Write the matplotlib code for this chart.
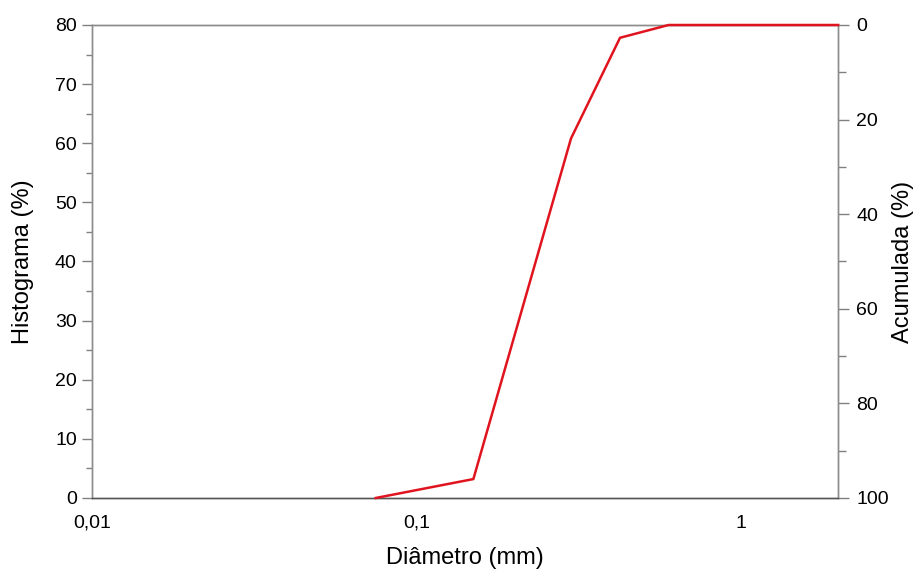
import matplotlib
matplotlib.use("Agg")
import matplotlib.pyplot as plt
from matplotlib.ticker import FixedLocator, MultipleLocator

plt.rcParams['font.family'] = ['Liberation Sans', 'DejaVu Sans']

diametro = [0.075, 0.15, 0.30, 0.425, 0.60, 2.0]
acumulada = [100, 96, 24, 2.7, 0, 0]
xticks = [0.01, 0.1, 1]
xlabels = ["0,01", "0,1", "1"]

fig = plt.figure(figsize=(9.13, 5.72), dpi=100)
ax = fig.add_axes([0.1008, 0.1294, 0.8172, 0.8269])
ax.set_xscale('log')
ax.set_xlim(0.01, 2.0)
ax.set_ylim(0, 80)
ax.yaxis.set_major_locator(MultipleLocator(10))
ax.yaxis.set_minor_locator(MultipleLocator(5))
ax.xaxis.set_major_locator(FixedLocator(xticks))
ax.set_xticklabels(xlabels)
ax.xaxis.set_minor_locator(FixedLocator([]))
ax.tick_params(axis='x', length=0, labelsize=14, pad=12)
ax.tick_params(axis='y', which='major', length=7, width=1, color='#808080', labelsize=14, pad=4)
ax.tick_params(axis='y', which='minor', length=4, width=1, color='#808080')
ax.set_ylabel("Histograma (%)", fontsize=17, labelpad=15)
ax.set_xlabel("Diâmetro (mm)", fontsize=17, labelpad=11)

ax2 = ax.twinx()
ax2.set_ylim(100, 0)
ax2.yaxis.set_major_locator(MultipleLocator(20))
ax2.yaxis.set_minor_locator(MultipleLocator(10))
ax2.tick_params(axis='y', which='major', length=8, width=1, color='#808080', labelsize=14, pad=5)
ax2.tick_params(axis='y', which='minor', length=6, width=1, color='#808080')
ax2.set_ylabel("Acumulada (%)", fontsize=17, labelpad=2)
ax2.plot(diametro, acumulada, color='#e0141e', lw=1.8, clip_on=False, zorder=5)

for a in (ax, ax2):
    for s in a.spines.values():
        s.set_color('#8c8c8c')
        s.set_linewidth(1)
    a.spines['bottom'].set_color('#555555')

fig.savefig("out.png", dpi=100)
